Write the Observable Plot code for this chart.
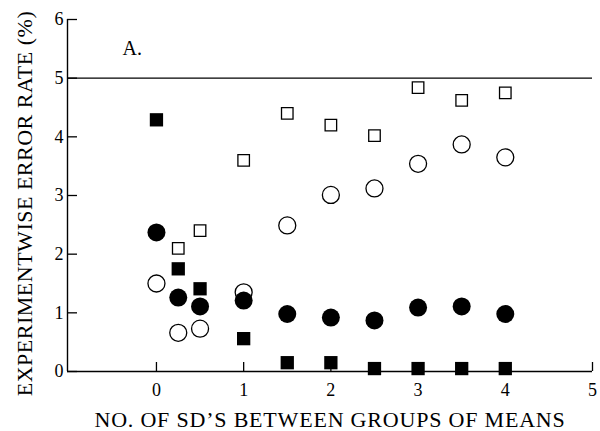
<!DOCTYPE html>
<html><head><meta charset="utf-8">
<script src="https://cdn.jsdelivr.net/npm/d3@7"></script>
<script src="https://cdn.jsdelivr.net/npm/@observablehq/plot@0.6"></script>
<style>body{margin:0;background:#fff}</style>
</head><body><div id="chart"></div>
<script>
const xValues       = [0, 0.25, 0.5, 1, 1.5, 2, 2.5, 3, 3.5, 4];
const openSquares   = [null, 2.1, 2.4, 3.6, 4.4, 4.2, 4.02, 4.84, 4.62, 4.75];
const openCircles   = [1.5, 0.66, 0.73, 1.35, 2.49, 3.01, 3.12, 3.54, 3.87, 3.65];
const filledSquares = [4.29, 1.75, 1.41, 0.56, 0.15, 0.15, 0.05, 0.05, 0.05, 0.05];
const filledCircles = [2.37, 1.26, 1.11, 1.21, 0.98, 0.92, 0.87, 1.09, 1.11, 0.98];
const xTicks = [0, 1, 2, 3, 4, 5];
const yTicks = [0, 1, 2, 3, 4, 5, 6];
const xDomain = [-1.02, 5];
const yDomain = [0, 6];
const referenceRate = [5];
const panelLabel = [{x: -0.39, y: 5.5, text: "A."}];
const xLabel = "NO. OF SD\u2019S BETWEEN GROUPS OF MEANS";
const yLabel = "EXPERIMENTWISE ERROR RATE (%)";

const rows = (vals) => xValues.map((x, i) => ({x, y: vals[i]})).filter(d => d.y != null);
const fmt = d3.format("d");

const plot = Plot.plot({
  width: 600, height: 431,
  marginLeft: 67, marginRight: 8, marginTop: 19, marginBottom: 60,
  style: {fontFamily: "'Liberation Serif', 'Times New Roman', serif", fontSize: "18px", color: "#000", background: "#fff"},
  x: {domain: xDomain},
  y: {domain: yDomain},
  marks: [
    Plot.ruleY(referenceRate, {stroke: "#000", strokeWidth: 1.4}),
    Plot.ruleY([yDomain[0]], {stroke: "#000", strokeWidth: 1.4}),
    Plot.ruleX([xDomain[0]], {stroke: "#000", strokeWidth: 1.4}),
    Plot.axisX(xTicks, {tickSize: -9, tickPadding: 21, label: null, tickFormat: fmt, strokeWidth: 1.3, fontSize: 18}),
    Plot.axisY(yTicks, {tickSize: -10, tickPadding: 14, label: null, tickFormat: fmt, strokeWidth: 1.3, fontSize: 18}),
    Plot.text([xLabel], {frameAnchor: "bottom", textAnchor: "middle", dy: 48, lineAnchor: "middle", fontSize: 22, fill: "#000", className: "xlab"}),
    Plot.text([yLabel], {frameAnchor: "left", textAnchor: "middle", rotate: -90, dx: -42.5, dy: 8, lineAnchor: "middle", fontSize: 22, fill: "#000", className: "ylab"}),
    Plot.text(panelLabel, {x: "x", y: "y", text: "text", textAnchor: "start", lineAnchor: "middle", fontSize: 20, fill: "#000"}),
    Plot.dot(rows(openSquares), {x: "x", y: "y", symbol: "square", r: 6.5, fill: "#fff", stroke: "#000", strokeWidth: 1.3}),
    Plot.dot(rows(openCircles), {x: "x", y: "y", r: 8.5, fill: "#fff", stroke: "#000", strokeWidth: 1.3}),
    Plot.dot(rows(filledSquares), {x: "x", y: "y", symbol: "square", r: 7.5, fill: "#000", stroke: "none"}),
    Plot.dot(rows(filledCircles), {x: "x", y: "y", r: 9, fill: "#000", stroke: "none"})
  ]
});
d3.select(plot).selectAll("text").filter(function() { return this.textContent === xLabel; }).style("letter-spacing", "0.8px");
d3.select(plot).selectAll("text").filter(function() { return this.textContent === yLabel; }).style("letter-spacing", "0.5px");
document.getElementById("chart").appendChild(plot);
</script>
</body></html>
